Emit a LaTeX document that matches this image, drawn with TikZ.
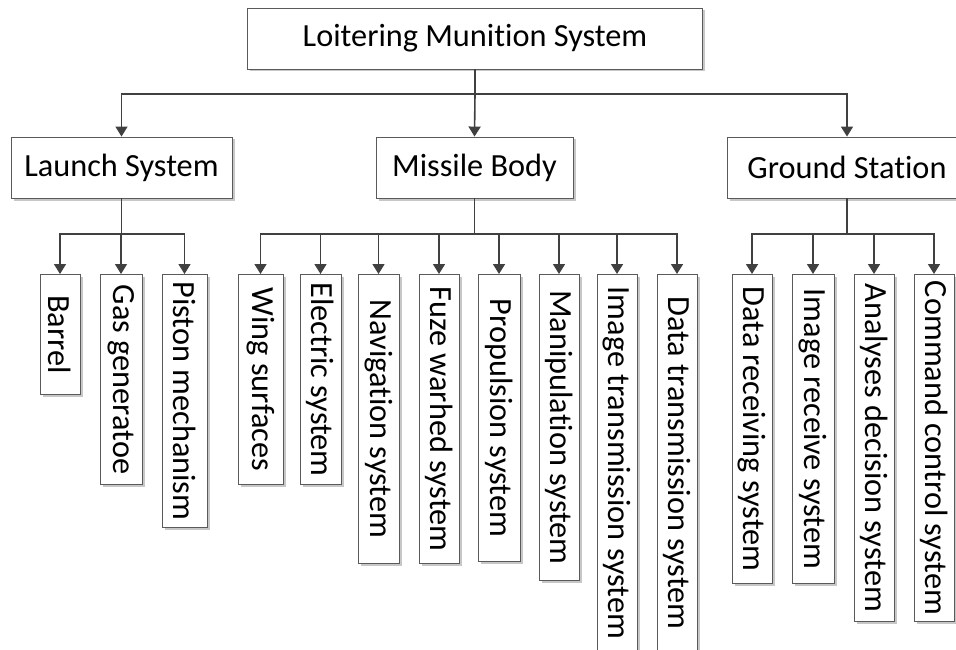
\documentclass[tikz,border=0pt]{standalone}
\usepackage{fontspec}
\setmainfont{Carlito}[Ligatures={NoCommon}]
\usetikzlibrary{arrows.meta,shadows}
\definecolor{boxline}{HTML}{5A5A5A}
\definecolor{connline}{HTML}{404040}
\begin{document}
\begin{tikzpicture}[x=1pt,y=-1pt,
  box/.style={draw=boxline,line width=0.9pt,fill=white,rectangle,inner sep=0pt,
    font=\fontsize{32.3}{34}\selectfont,
    drop shadow={shadow xshift=2.5pt,shadow yshift=-2.5pt,fill=black!22,opacity=1}},
  vbox/.style={box,anchor=north,minimum width=40pt},
  conn/.style={draw=connline,line width=1.6pt},
  arr/.style={conn,-{Triangle[width=12pt,length=10pt]}}]
\useasboundingbox (0,0) rectangle (956,650);
\clip (0,0) rectangle (956,650);
% top level
\node[box,minimum width=455pt,minimum height=61pt] (top) at (475,38.5) {Loitering Munition System};
% second level
\node[box,minimum width=221pt,minimum height=61pt] (launch) at (121.5,167.5) {Launch System};
\node[box,minimum width=197pt,minimum height=61pt] (missile) at (474.5,167.5) {Missile Body};
\node[box,minimum width=240pt,minimum height=61pt] (ground) at (847,167.5) {Ground Station};
% third level
\node[vbox,minimum height=120pt] (barrel) at (60,274) {\rotatebox{-90}{Barrel}};
\node[vbox,minimum width=42pt,minimum height=210pt] (gas) at (121,274) {\rotatebox{-90}{Gas generatoe}};
\node[vbox,minimum width=45pt,minimum height=253pt] (piston) at (184.5,274) {\rotatebox{-90}{Piston mechanism}};
\node[vbox,minimum width=45pt,minimum height=210pt] (wing) at (260.5,274) {\rotatebox{-90}{Wing surfaces}};
\node[vbox,minimum width=41pt,minimum height=210pt] (electric) at (320.5,274) {\rotatebox{-90}{Electric system}};
\node[vbox,minimum width=41pt,minimum height=289pt] (nav) at (378.5,274) {\rotatebox{-90}{Navigation system}};
\node[vbox,minimum height=289pt] (fuze) at (439,274) {\rotatebox{-90}{Fuze warhed system}};
\node[vbox,minimum width=42pt,minimum height=287pt] (prop) at (499,274) {\rotatebox{-90}{Propulsion system}};
\node[vbox,minimum height=306pt] (manip) at (559,274) {\rotatebox{-90}{Manipulation system}};
\node[vbox,minimum height=377pt] (imgt) at (617,274) {\rotatebox{-90}{Image transmission system}};
\node[vbox,minimum height=377pt] (datat) at (677,274) {\rotatebox{-90}{Data transmission system}};
\node[vbox,minimum height=309pt] (datarecv) at (752,274) {\rotatebox{-90}{Data receiving system}};
\node[vbox,minimum width=42pt,minimum height=309pt] (imgrecv) at (813,274) {\rotatebox{-90}{Image receive system}};
\node[vbox,minimum height=347pt] (analyses) at (874,274) {\rotatebox{-90}{Analyses decision system}};
\node[vbox,minimum height=347pt] (command) at (934,274) {\rotatebox{-90}{Command control system}};
% junctions
\coordinate (j0) at (475,94);
\coordinate (j1) at (121.5,234);
\coordinate (j2) at (474.5,234);
\coordinate (j3) at (847,234);
% level 1 -> 2
\draw[conn] (top.south) -- (j0);
\draw[arr] (j0) -| (launch.north);
\draw[arr] (j0) -- (missile.north);
\draw[arr] (j0) -| (ground.north);
% launch
\draw[conn] (launch.south) -- (j1);
\foreach \n in {barrel,gas,piston} \draw[arr] (j1) -| (\n.north);
% missile
\draw[conn] (missile.south) -- (j2);
\foreach \n in {wing,electric,nav,fuze,prop,manip,imgt,datat} \draw[arr] (j2) -| (\n.north);
% ground
\draw[conn] (ground.south) -- (j3);
\foreach \n in {datarecv,imgrecv,analyses,command} \draw[arr] (j3) -| (\n.north);
\end{tikzpicture}
\end{document}
